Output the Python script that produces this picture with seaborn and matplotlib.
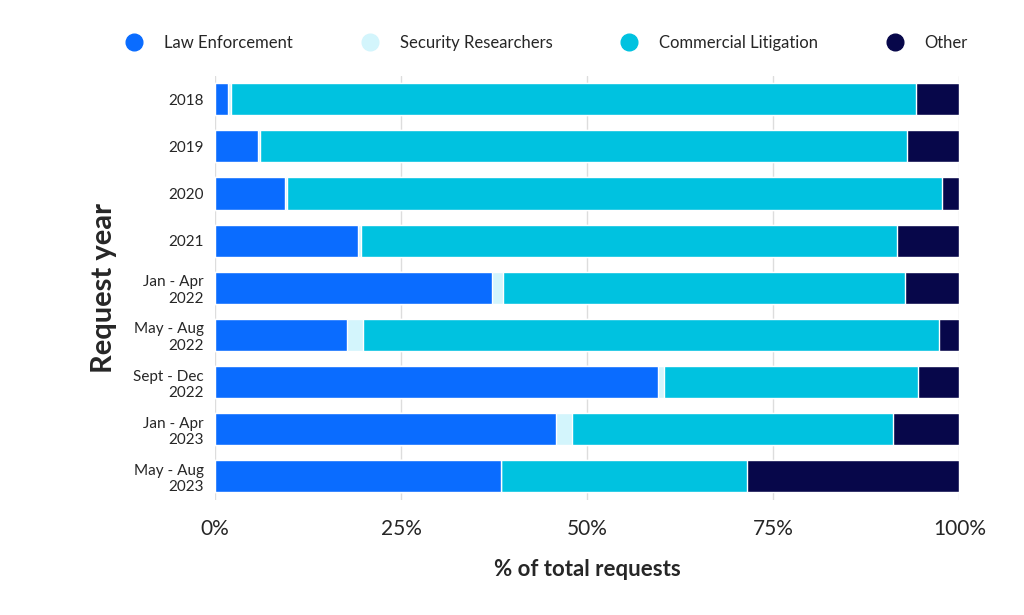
import numpy as np
import pandas as pd
import matplotlib
matplotlib.use('Agg')
import matplotlib.pyplot as plt
from matplotlib.lines import Line2D
from matplotlib.ticker import FuncFormatter
import seaborn as sns

periods = ['2018', '2019', '2020', '2021', 'Jan - Apr\n2022', 'May - Aug\n2022',
           'Sept - Dec\n2022', 'Jan - Apr\n2023', 'May - Aug\n2023']
law_enforcement = [1.7, 5.8, 9.4, 19.2, 37.2, 17.7, 59.5, 45.8, 38.4]
security_researchers = [0.5, 0.3, 0.3, 0.4, 1.5, 2.2, 0.8, 2.2, 0.0]
commercial_litigation = [92.0, 86.8, 87.9, 72.0, 54.0, 77.3, 34.1, 43.1, 33.1]
other = [5.8, 7.1, 2.4, 8.4, 7.3, 2.8, 5.6, 8.9, 28.5]

names = ['Law Enforcement', 'Security Researchers', 'Commercial Litigation', 'Other']
colors = ['#0A6CFF', '#D3F5FC', '#00C2E0', '#07074A']

sns.set_theme(style='white')
plt.rcParams['font.family'] = ['Lato', 'DejaVu Sans']

df = pd.DataFrame({'period': periods, names[0]: law_enforcement, names[1]: security_researchers,
                   names[2]: commercial_litigation, names[3]: other})
cum = df[names].cumsum(axis=1)

fig = plt.figure(figsize=(10.24, 6.15), dpi=100)
ax = fig.add_axes([0.21, 0.187, 0.727, 0.69])
for i in range(len(names) - 1, -1, -1):
    sns.barplot(x=cum[names[i]], y=df['period'], color=colors[i], ax=ax,
                width=0.68, orient='h', saturation=1, zorder=3)

ax.set_xlim(0, 100)
ax.xaxis.set_major_formatter(FuncFormatter(lambda v, p: f'{v:.0f}%'))
ax.set_xticks([0, 25, 50, 75, 100])
ax.grid(axis='x', color='#dddddd', lw=1, zorder=0)
for s in ax.spines.values():
    s.set_visible(False)
ax.tick_params(axis='x', labelsize=15, pad=14, length=0)
ax.tick_params(axis='y', labelsize=11, length=0, pad=8)
ax.set_xlabel('% of total requests', fontsize=16, fontweight='bold', labelpad=14)
ax.set_ylabel('Request year', fontsize=21, fontweight='bold', labelpad=12)

handles = [Line2D([], [], marker='o', ls='', ms=12, color=c) for c in colors]
fig.legend(handles, names, loc='upper center', bbox_to_anchor=(0.53, 0.967), ncol=4,
           frameon=False, fontsize=12, handletextpad=0.8, columnspacing=3.6)

fig.savefig('out.png', dpi=100)
